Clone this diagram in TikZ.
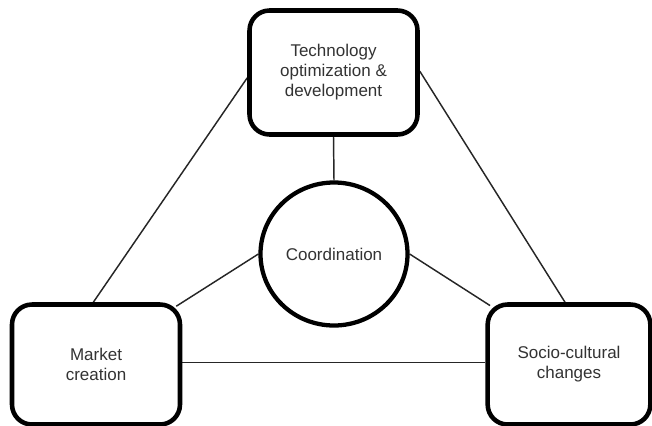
\documentclass[tikz,border=0pt]{standalone}
\usepackage{fontspec}
\setmainfont{Liberation Sans}
\usetikzlibrary{shapes.geometric,backgrounds}
\begin{document}
\begin{tikzpicture}[x=0.75pt,y=-0.75pt,
  stage/.style={draw=black, line width=3.4pt, rounded corners=15pt, fill=white,
    align=center, text=black!80, font=\fontsize{12.75}{15}\selectfont, inner sep=0pt},
  hub/.style={ellipse, draw=black, line width=3.2pt, fill=white, text=black!80,
    font=\fontsize{12.75}{15}\selectfont, inner sep=0pt,
    minimum width=110.25pt, minimum height=107.25pt},
  link/.style={draw=black!85, line width=1.1pt}]
\useasboundingbox (0,0) rectangle (652,425);
\clip (0,0) rectangle (652,425);

% the three functions and the coordinating hub
\node[stage, minimum width=126pt, minimum height=93pt] (tech) at (333.5,72.5)
  {Technology\\optimization \&\\development};
\node[stage, minimum width=126pt, minimum height=90pt] (market) at (96,364.5)
  {Market\\creation};
\node[stage, minimum width=122pt, minimum height=90pt] (social) at (569,364.5)
  {Socio-cultural\\changes};
\node[hub] (coord) at (334,254) {Coordination};

% connectors, kept behind the filled shapes
\begin{pgfonlayer}{background}
  \draw[link] ([yshift=-4pt]tech.west) -- ([xshift=-2pt]market.north);
  \draw[link] ([yshift=1pt]tech.east) -- ([xshift=-3pt]social.north);
  \draw[link] (tech.south) -- (coord.north);
  \draw[link] (coord.west) -- ([xshift=-4.5pt,yshift=-3pt]market.north east);
  \draw[link] (coord.east) -- ([xshift=3.5pt,yshift=-2.5pt]social.north west);
  \draw[link] ([yshift=1.5pt]market.east) -- ([yshift=1.5pt]social.west);
\end{pgfonlayer}
\end{tikzpicture}
\end{document}
